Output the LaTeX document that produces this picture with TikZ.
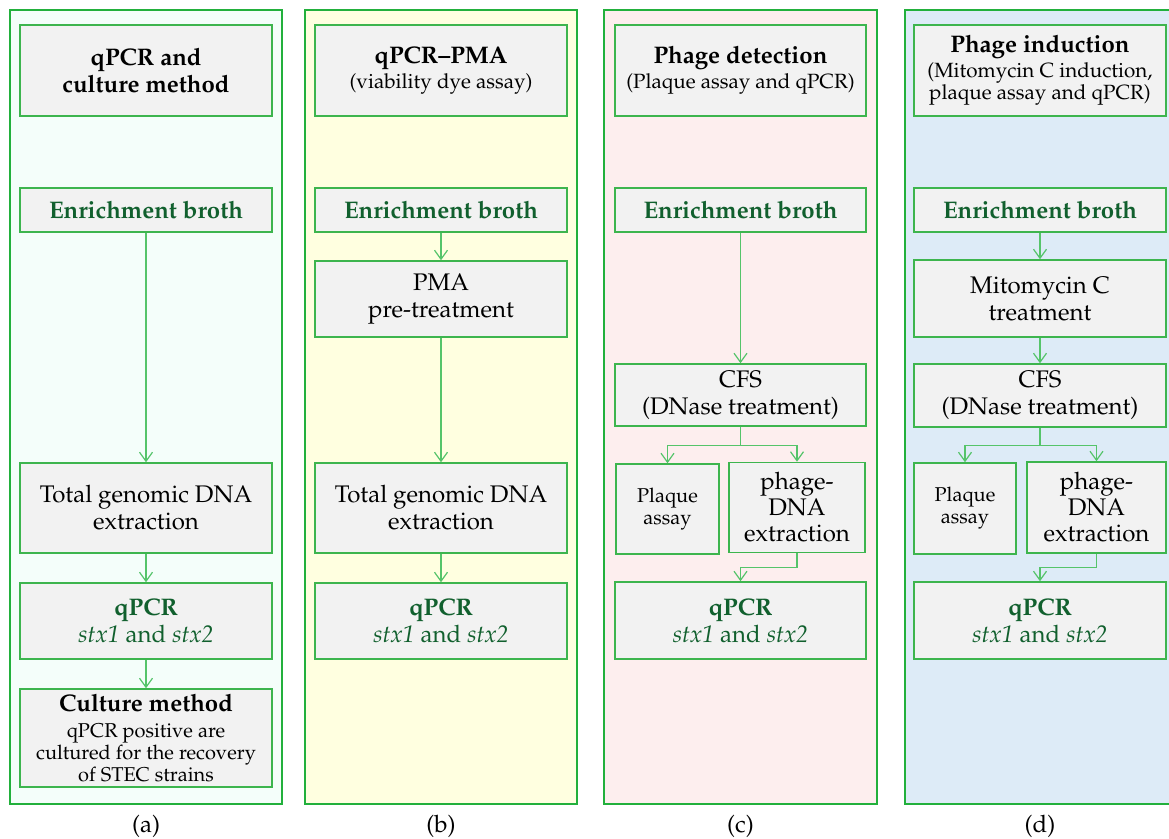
\documentclass[tikz,border=0pt]{standalone}
\usepackage[T1]{fontenc}
\usepackage{mathpazo}
\usepackage{tikz}
\usetikzlibrary{arrows.meta, positioning}
\definecolor{PanelGreen}{HTML}{22B03C}
\definecolor{BoxGreen}{HTML}{3DB54E}
\definecolor{ArrowGreen}{HTML}{55C46A}
\definecolor{DarkGreen}{HTML}{11602E}
\definecolor{BoxGray}{HTML}{F2F2F2}
\definecolor{FillA}{HTML}{F4FEFA}
\definecolor{FillB}{HTML}{FFFFE0}
\definecolor{FillC}{HTML}{FDEEEE}
\definecolor{FillD}{HTML}{DDEBF7}
\newcommand{\subfont}{\fontsize{10.3}{11}\selectfont}
\newcommand{\smallfont}{\fontsize{10}{11}\selectfont}
\newcommand{\headfont}{\fontsize{12}{13}\selectfont\bfseries}

\begin{document}
\begin{tikzpicture}[
  x=0.5pt, y=-0.5pt,
  panel/.style={draw=PanelGreen, line width=0.75pt},
  box/.style={rectangle, draw=BoxGreen, fill=BoxGray, line width=0.75pt, inner sep=0pt, align=center, font=\fontsize{12}{13.5}\selectfont},
  title/.style={box, font=\subfont},
  dims/.style 2 args={minimum width=#1, minimum height=#2},
  green/.style={text=DarkGreen},
  arrow/.style={-{Straight Barb[length=4.5pt, width=6.5pt]}, ArrowGreen, line width=0.6pt},
  caption/.style={font=\fontsize{12}{13.5}\selectfont}
]
  \useasboundingbox (0,0) rectangle (1169,839);

  % panels
  \draw[panel, fill=FillA] (10,10) rectangle (282,804);
  \draw[panel, fill=FillB] (305,10) rectangle (577,804);
  \draw[panel, fill=FillC] (604,10) rectangle (877,804);
  \draw[panel, fill=FillD] (905,10) rectangle (1185,804);

  % (a) qPCR and culture
  \node[box, dims={126pt}{45.5pt}] (tia) at (146,70.5) {\bfseries qPCR and\\\bfseries culture method};
  \node[box, green, dims={126pt}{22pt}] (ena) at (146,210) {\bfseries Enrichment broth};
  \node[box, dims={126pt}{45pt}] (dna) at (146,508) {Total genomic DNA\\extraction};
  \node[box, green, dims={126pt}{38pt}] (qa) at (146,621) {\bfseries qPCR\\\textit{stx1} and \textit{stx2}};
  \node[box, dims={126pt}{49pt}, font=\smallfont] (cua) at (146,738) {{\headfont Culture method}\\[2pt]qPCR positive are\\cultured for the recovery\\of STEC strains};
  \node[caption] (la) at (146,826) {(a)};

  \draw[arrow] (ena) -- (dna);
  \draw[arrow] (dna) -- (qa);
  \draw[arrow] (qa) -- (cua);

  % (b) qPCR-PMA
  \node[title, dims={126pt}{45.5pt}] (tib) at (441,70.5) {{\headfont qPCR--PMA}\\[1.5pt](viability dye assay)};
  \node[box, green, dims={126pt}{22pt}] (enb) at (441,210) {\bfseries Enrichment broth};
  \node[box, dims={126pt}{38pt}] (pmb) at (441,299) {PMA\\pre-treatment};
  \node[box, dims={126pt}{45pt}] (dnb) at (441,508) {Total genomic DNA\\extraction};
  \node[box, green, dims={126pt}{38pt}] (qb) at (441,621) {\bfseries qPCR\\\textit{stx1} and \textit{stx2}};
  \node[caption] (lb) at (441,826) {(b)};

  \draw[arrow] (enb) -- (pmb);
  \draw[arrow] (pmb) -- (dnb);
  \draw[arrow] (dnb) -- (qb);

  % (c) phage detection
  \node[title, dims={125.5pt}{45.5pt}] (tic) at (740.5,70.5) {{\headfont Phage detection}\\[1.5pt](Plaque assay and qPCR)};
  \node[box, green, dims={125.5pt}{22pt}] (enc) at (740.5,210) {\bfseries Enrichment broth};
  \node[box, dims={125.5pt}{31pt}] (cfc) at (740.5,395) {CFS\\(DNase treatment)};
  \node[box, dims={51.5pt}{45pt}, font=\smallfont] (plc) at (667.5,509) {Plaque\\assay};
  \node[box, dims={68pt}{45pt}, font=\fontsize{12}{13}\selectfont] (phc) at (797,507.5) {phage-\\DNA\\extraction};
  \node[box, green, dims={125.5pt}{38.5pt}] (qc) at (740.5,620.5) {\bfseries qPCR\\\textit{stx1} and \textit{stx2}};
  \node[caption] (lc) at (740.5,826) {(c)};

  \draw[arrow] (enc) -- (cfc);
  \draw[arrow] (cfc.south) -- ++(0,19) -| (plc.north);
  \draw[arrow] (cfc.south) -- ++(0,19) -| (phc.north);
  \draw[arrow] (phc.south) -- ++(0,14) -| (qc.north);

  % (d) phage induction
  \node[title, dims={126pt}{45.5pt}] (tid) at (1040,70.5) {{\headfont Phage induction}\\[1.5pt](Mitomycin C induction,\\plaque assay and qPCR)};
  \node[box, green, dims={126pt}{22pt}] (end) at (1040,210) {\bfseries Enrichment broth};
  \node[box, dims={126pt}{38.5pt}] (mid) at (1040,298.5) {Mitomycin C\\treatment};
  \node[box, dims={126pt}{31.5pt}] (cfd) at (1040,395.5) {CFS\\(DNase treatment)};
  \node[box, dims={51pt}{45.5pt}, font=\smallfont] (pld) at (965,508.5) {Plaque\\assay};
  \node[box, dims={69.5pt}{45.5pt}, font=\fontsize{12}{13}\selectfont] (phd) at (1096.5,507.5) {phage-\\DNA\\extraction};
  \node[box, green, dims={126pt}{38.5pt}] (qd) at (1040,620.5) {\bfseries qPCR\\\textit{stx1} and \textit{stx2}};
  \node[caption] (ld) at (1040,826) {(d)};

  \draw[arrow] (end) -- (mid);
  \draw[arrow] (mid) -- (cfd);
  \draw[arrow] (cfd.south) -- ++(0,18) -| (pld.north);
  \draw[arrow] (cfd.south) -- ++(0,18) -| (phd.north);
  \draw[arrow] (phd.south) -- ++(0,14) -| (qd.north);
\end{tikzpicture}
\end{document}
